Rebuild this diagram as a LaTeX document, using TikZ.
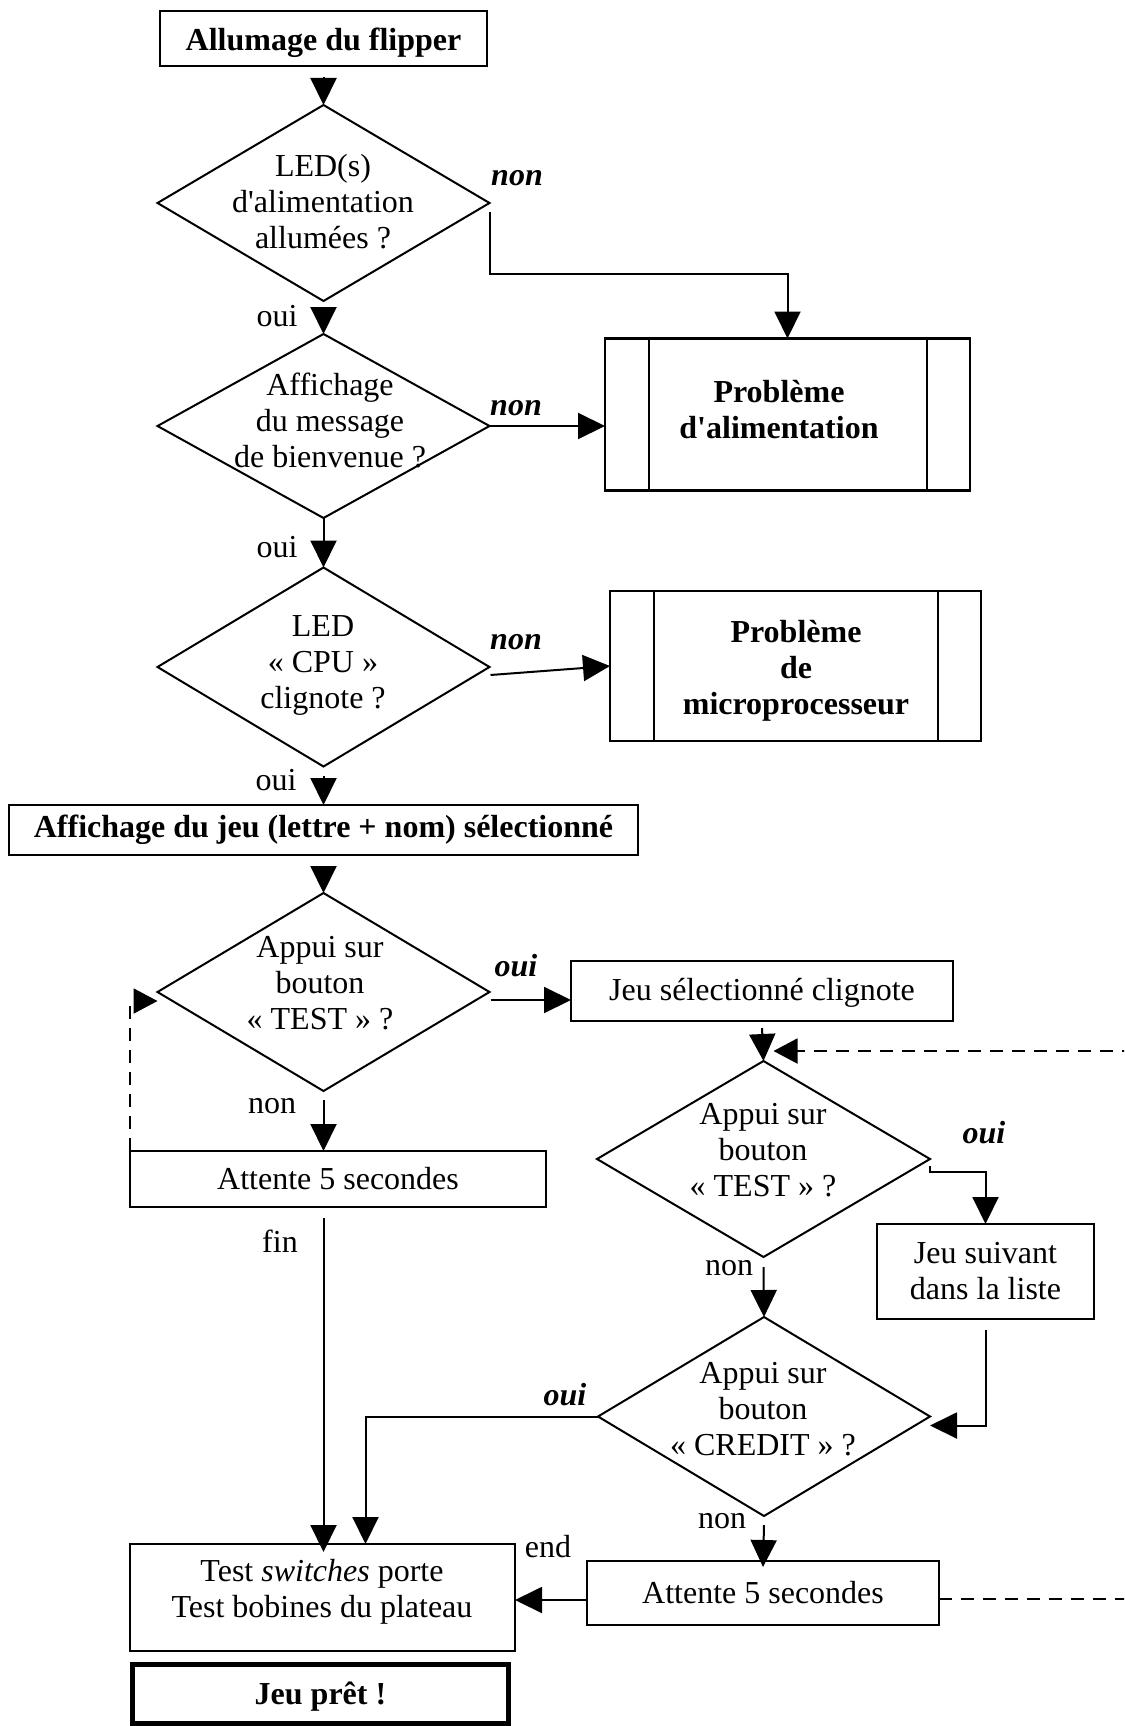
\documentclass[tikz,border=0pt]{standalone}
\usepackage{fontspec}
\setmainfont{Liberation Serif}[Ligatures=TeXOff]
\usetikzlibrary{shapes.geometric,arrows.meta,calc}
\begin{document}
\begin{tikzpicture}[x=1pt,y=-1pt,
  every node/.style={font=\fontsize{32}{36}\selectfont, inner sep=0pt, outer sep=0pt},
  box/.style={draw, line width=2pt, align=center},
  heavybox/.style={box, line width=2.5pt},
  bold/.style={font=\fontsize{32}{36}\selectfont\bfseries},
  dia/.style={diamond, draw, line width=2pt, minimum width=332pt, minimum height=#1},
  txt/.style={align=center},
  lbl/.style={},
  blbl/.style={font=\fontsize{32}{36}\selectfont\bfseries\itshape},
  conn/.style={line width=2pt, -{Triangle[length=27pt,width=26pt]}},
  loopback/.style={line width=2pt, dash pattern=on 13pt off 9pt, -{Triangle[length=24pt,width=25pt]}},
]
\useasboundingbox (0,0) rectangle (1124,1726);
\clip (0,0) rectangle (1124,1726);

% --- left column: power-up checks
\node[heavybox, minimum width=327pt, minimum height=55pt] (allum) at (323.5,38.5) {};
\node[txt, bold] (allumt) at (323.5,42.5) {Allumage du flipper};
\node[dia=196pt] (d1) at (323.5,203) {};
\node[txt] (d1t) at (323,201.5) {LED(s)\\d'alimentation\\allumées ?};
\node[dia=184pt] (d2) at (323.5,426) {};
\node[txt] (d2t) at (330,420) {Affichage\\du message\\de bienvenue ?};
\node[dia=199pt] (d3) at (323.5,667) {};
\node[txt] (d3t) at (323,665) {LED\\«~CPU~»\\clignote ?};

% --- fault boxes (predefined process)
\node[heavybox, minimum width=365pt, minimum height=152pt] (prob1) at (787.5,414.5) {};
\node[txt, bold] (prob1t) at (779,410) {Problème\\d'alimentation};
\draw[line width=2pt] ($(prob1.north west)+(44,0)$) -- ($(prob1.south west)+(44,0)$);
\draw[line width=2pt] ($(prob1.north east)+(-43,0)$) -- ($(prob1.south east)+(-43,0)$);
\node[heavybox, minimum width=371pt, minimum height=150pt] (prob2) at (795.5,666) {};
\node[txt, bold] (prob2t) at (796,671) {Problème\\de\\microprocesseur};
\draw[line width=2pt] ($(prob2.north west)+(44,0)$) -- ($(prob2.south west)+(44,0)$);
\draw[line width=2pt] ($(prob2.north east)+(-43,0)$) -- ($(prob2.south east)+(-43,0)$);

% --- game selection
\node[heavybox, bold, minimum width=629pt, minimum height=50pt] (aff) at (323.5,830) {Affichage du jeu (lettre + nom) sélectionné};
\node[dia=198pt] (d4) at (323.5,992) {};
\node[txt] (d4t) at (320,983) {Appui sur\\bouton\\«~TEST~» ?};
\node[box, minimum width=382pt, minimum height=60pt] (clig) at (762,991) {};
\node[txt] (cligt) at (762,993) {Jeu sélectionné clignote};
\node[box, minimum width=416pt, minimum height=56pt] (attL) at (338,1179) {Attente 5 secondes};
\node[dia=196pt, minimum width=333pt] (d5) at (763.5,1159) {};
\node[txt] (d5t) at (763,1150) {Appui sur\\bouton\\«~TEST~» ?};
\node[box, minimum width=217pt, minimum height=95pt] (suiv) at (985.5,1271.5) {Jeu suivant\\dans la liste};
\node[dia=199pt] (d6) at (764,1416.5) {};
\node[txt] (d6t) at (763,1409) {Appui sur\\bouton\\«~CREDIT~» ?};
\node[box, minimum width=352pt, minimum height=64pt] (attR) at (763,1593) {Attente 5 secondes};
\node[box, minimum width=385pt, minimum height=107pt] (tsw) at (322.5,1597.5) {};
\node[txt] (tswt) at (322,1591.5) {Test \textit{switches} porte\\Test bobines du plateau};
\node[box, line width=5pt, minimum width=376pt, minimum height=59pt] (ready) at (320.5,1694) {};
\node[txt, bold] (readyt) at (320.5,1697) {Jeu prêt !};

% --- branch labels
\node[blbl] (n1) at (517,178) {non};
\node[blbl] (n2) at (516,408) {non};
\node[blbl] (n3) at (516,642) {non};
\node[lbl] (o1) at (277,316) {oui};
\node[lbl] (o2) at (277,547) {oui};
\node[lbl] (o3) at (276,780) {oui};
\node[blbl] (o4) at (516,966) {oui};
\node[lbl] (n4) at (272,1106) {non};
\node[lbl] (f1) at (280,1241) {fin};
\node[blbl] (o5) at (984,1133) {oui};
\node[lbl] (n5) at (729,1268) {non};
\node[blbl] (o6) at (565,1395) {oui};
\node[lbl] (n6) at (722,1521) {non};
\node[lbl] (e1) at (548,1547) {end};

% --- connectors
\draw[conn] ($(allum.south)+(0,11)$) -- (d1.north);
\draw[conn] ($(d1.east)+(0,9)$) |- ($(prob1.north)+(0,-65)$) -- (prob1.north);
\draw[conn] ($(d1.south)+(0,9)$) -- (d2.north);
\draw[conn] (d2.east) -- (d2.east -| prob1.west);
\draw[conn] (d2.south) -- (d3.north);
\draw[conn] ($(d3.east)+(1,8)$) -- (prob2.west);
\draw[conn] ($(d3.south)+(0,9)$) -- (aff.north);
\draw[conn] ($(aff.south)+(0,11)$) -- (d4.north);
\draw[conn] ($(d4.east)+(1,8)$) coordinate (t4) -- (t4 -| clig.west);
\draw[conn] ($(d4.south)+(0,9)$) -- (d4.south |- attL.north);
\draw[loopback] (attL.north west) |- ($(d4.west)+(0,9)$);
\draw[conn] ($(attL.south -| d4.south)+(0,11)$) -- ($(d4.south |- tsw.north)+(0,8)$);
\draw[conn] ($(clig.south)+(0,7)$) -- (d5.north);
\draw[conn] ($(d5.east)+(0,7)$) -- ++(0,6) -| (suiv.north);
\draw[conn] ($(d5.south)+(0,10)$) -- (d6.north);
\draw[conn] ($(suiv.south)+(0,11)$) |- ($(d6.east)+(0,9)$);
\draw[conn] (d6.west) -| ($(tsw.north west)+(235.5,0)$);
\draw[conn] ($(d6.south)+(0,9)$) -- ($(attR.north)+(0,6)$);
\draw[conn] ($(attR.west)+(0,7)$) coordinate (t7) -- (t7 -| tsw.east);
\draw[loopback] ($(attR.east)+(0,6)$) -- ++(220,0) |- ($(d5.north)+(10,-10)$);
\end{tikzpicture}
\end{document}
